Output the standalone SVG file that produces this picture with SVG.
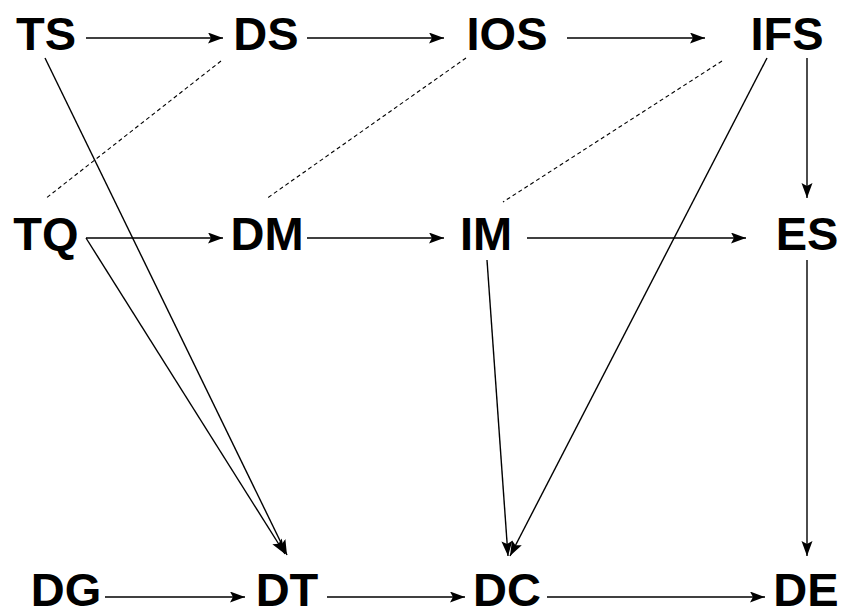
<svg xmlns="http://www.w3.org/2000/svg" width="844" height="616" viewBox="0 0 844 616">
<style>
.lbl{font-family:"Liberation Sans",Arial,sans-serif;font-weight:bold;font-size:47px;fill:#000;text-anchor:middle}
.e{stroke:#000;stroke-width:1.4;fill:none}
.a{marker-end:url(#ah)}
.d{stroke-dasharray:4 3;stroke-width:1.1}
</style>
<defs>
<marker id="ah" markerUnits="userSpaceOnUse" markerWidth="16" markerHeight="12" refX="15" refY="5.5" orient="auto">
<path d="M0,0 L15,5.5 L0,11 L3,5.5 z" fill="#000"/>
</marker>
</defs>
<rect width="844" height="616" fill="#fff"/>
<g id="edges">
<line class="e a" x1="86" y1="38" x2="223" y2="38"/>
<line class="e a" x1="307" y1="38" x2="444" y2="38"/>
<line class="e a" x1="567" y1="38" x2="705" y2="38"/>
<line class="e a" x1="86" y1="238" x2="223" y2="238"/>
<line class="e a" x1="307" y1="238" x2="444" y2="238"/>
<line class="e a" x1="527" y1="238" x2="746" y2="238"/>
<line class="e a" x1="105" y1="597" x2="245" y2="597"/>
<line class="e a" x1="327" y1="597" x2="465" y2="597"/>
<line class="e a" x1="547" y1="597" x2="765" y2="597"/>
<line class="e a" x1="807" y1="58" x2="807" y2="198"/>
<line class="e a" x1="807" y1="260" x2="807" y2="556"/>
<line class="e a" x1="487" y1="260" x2="508" y2="556"/>
<line class="e a" x1="767" y1="58" x2="510" y2="556"/>
<line class="e a" x1="45" y1="58" x2="287" y2="555"/>
<line class="e a" x1="86" y1="238" x2="285" y2="554"/>
<line class="e d" x1="221" y1="61" x2="45" y2="199"/>
<line class="e d" x1="466" y1="58" x2="266" y2="199"/>
<line class="e d" x1="722" y1="61" x2="503" y2="202"/>
</g>
<g id="TS"><text class="lbl" x="46" y="50">TS</text></g>
<g id="DS"><text class="lbl" x="266" y="50">DS</text></g>
<g id="IOS"><text class="lbl" x="507" y="50">IOS</text></g>
<g id="IFS"><text class="lbl" x="787" y="50">IFS</text></g>
<g id="TQ"><text class="lbl" x="46" y="250">TQ</text></g>
<g id="DM"><text class="lbl" x="267" y="250">DM</text></g>
<g id="IM"><text class="lbl" x="486" y="250">IM</text></g>
<g id="ES"><text class="lbl" x="807" y="250">ES</text></g>
<g id="DG"><text class="lbl" x="66" y="606">DG</text></g>
<g id="DT"><text class="lbl" x="287" y="606">DT</text></g>
<g id="DC"><text class="lbl" x="507" y="606">DC</text></g>
<g id="DE"><text class="lbl" x="806" y="606">DE</text></g>
</svg>
